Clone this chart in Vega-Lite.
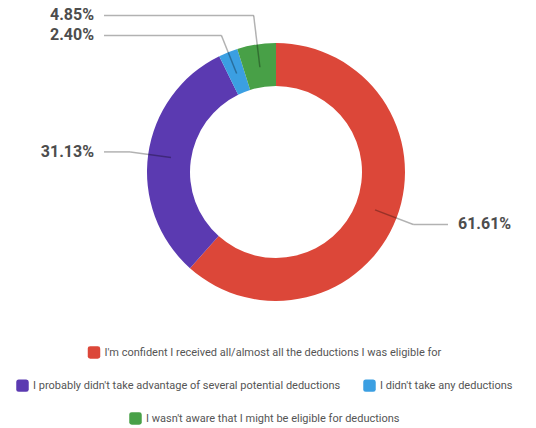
{
  "$schema": "https://vega.github.io/schema/vega-lite/v6.json",
  "width": 528,
  "height": 340,
  "padding": {"left": 0, "right": 8, "top": 2, "bottom": 0},
  "background": "white",
  "data": {
    "values": [
      {"cat": "I'm confident I received all/almost all the deductions I was eligible for", "value": 61.61, "label": "61.61%", "group": 1, "order": 1},
      {"cat": "I probably didn't take advantage of several potential deductions", "value": 31.13, "label": "31.13%", "group": 2, "order": 2},
      {"cat": "I didn't take any deductions", "value": 2.40, "label": "2.40%", "group": 2, "order": 3},
      {"cat": "I wasn't aware that I might be eligible for deductions", "value": 4.85, "label": "4.85%", "group": 3, "order": 4}
    ]
  },
  "transform": [
    {"window": [{"op": "sum", "field": "value", "as": "cum"}], "sort": [{"field": "order"}], "frame": [null, 0]},
    {"calculate": "datum.cum - datum.value", "as": "start"},
    {"calculate": "(datum.start + datum.value / 2) / 99.99 * 2 * PI", "as": "mid"},
    {"calculate": "sin(datum.mid) >= 0 ? 'right' : 'left'", "as": "side"},
    {"calculate": "106 * sin(datum.mid)", "as": "sx"},
    {"calculate": "106 * cos(datum.mid)", "as": "sy"},
    {"calculate": "147 * sin(datum.mid)", "as": "ex"},
    {"calculate": "147 * cos(datum.mid)", "as": "ey0"},
    {"window": [{"op": "lag", "field": "ey0", "as": "prev"}], "groupby": ["side"], "sort": [{"field": "ey0"}]},
    {"calculate": "datum.prev != null && datum.ey0 < datum.prev + 20 ? datum.prev + 20 : datum.ey0", "as": "ey"},
    {"calculate": "datum.side == 'right' ? 172 : -172", "as": "lx"},
    {"calculate": "datum.side == 'right' ? 182 : -182", "as": "tx"}
  ],
  "layer": [
    {
      "transform": [{"filter": "datum.group == 1"}],
      "mark": {"type": "arc", "outerRadius": 129, "innerRadius": 86},
      "encoding": {
        "x": {"datum": 0, "type": "quantitative", "scale": {"domain": [-276, 252], "nice": false, "zero": false}, "axis": null},
        "y": {"datum": 0, "type": "quantitative", "scale": {"domain": [-170, 170], "nice": false, "zero": false}, "axis": null},
        "theta": {"field": "start", "type": "quantitative", "stack": null, "scale": {"domain": [0, 99.99]}},
        "theta2": {"field": "cum"},
        "color": {"field": "cat", "type": "nominal", "scale": {"domain": ["I'm confident I received all/almost all the deductions I was eligible for"], "range": ["#DC4739"]},
          "legend": {"title": null, "orient": "bottom", "direction": "horizontal", "symbolType": "M-0.6,-1H0.6Q1,-1,1,-0.6V0.6Q1,1,0.6,1H-0.6Q-1,1,-1,0.6V-0.6Q-1,-1,-0.6,-1Z"}}
      }
    },
    {
      "transform": [{"filter": "datum.group == 2"}],
      "mark": {"type": "arc", "outerRadius": 129, "innerRadius": 86},
      "encoding": {
        "x": {"datum": 0, "type": "quantitative", "scale": {"domain": [-276, 252], "nice": false, "zero": false}, "axis": null},
        "y": {"datum": 0, "type": "quantitative", "scale": {"domain": [-170, 170], "nice": false, "zero": false}, "axis": null},
        "theta": {"field": "start", "type": "quantitative", "stack": null, "scale": {"domain": [0, 99.99]}},
        "theta2": {"field": "cum"},
        "color": {"field": "cat", "type": "nominal", "scale": {"domain": ["I probably didn't take advantage of several potential deductions", "I didn't take any deductions"], "range": ["#5B3AB1", "#3B9FE2"]},
          "legend": {"title": null, "orient": "bottom", "direction": "horizontal", "symbolType": "M-0.6,-1H0.6Q1,-1,1,-0.6V0.6Q1,1,0.6,1H-0.6Q-1,1,-1,0.6V-0.6Q-1,-1,-0.6,-1Z"}}
      }
    },
    {
      "transform": [{"filter": "datum.group == 3"}],
      "mark": {"type": "arc", "outerRadius": 129, "innerRadius": 86},
      "encoding": {
        "x": {"datum": 0, "type": "quantitative", "scale": {"domain": [-276, 252], "nice": false, "zero": false}, "axis": null},
        "y": {"datum": 0, "type": "quantitative", "scale": {"domain": [-170, 170], "nice": false, "zero": false}, "axis": null},
        "theta": {"field": "start", "type": "quantitative", "stack": null, "scale": {"domain": [0, 99.99]}},
        "theta2": {"field": "cum"},
        "color": {"field": "cat", "type": "nominal", "scale": {"domain": ["I wasn't aware that I might be eligible for deductions"], "range": ["#48A047"]},
          "legend": {"title": null, "orient": "bottom", "direction": "horizontal", "symbolType": "M-0.6,-1H0.6Q1,-1,1,-0.6V0.6Q1,1,0.6,1H-0.6Q-1,1,-1,0.6V-0.6Q-1,-1,-0.6,-1Z"}}
      }
    },
    {
      "mark": {"type": "rule", "color": "#000000", "opacity": 0.3, "strokeWidth": 1.5},
      "encoding": {
        "x": {"field": "sx", "type": "quantitative", "scale": {"domain": [-276, 252], "nice": false, "zero": false}, "axis": null},
        "y": {"field": "sy", "type": "quantitative", "scale": {"domain": [-170, 170], "nice": false, "zero": false}, "axis": null},
        "x2": {"field": "ex"},
        "y2": {"field": "ey"}
      }
    },
    {
      "mark": {"type": "rule", "color": "#000000", "opacity": 0.3, "strokeWidth": 1.5},
      "encoding": {
        "x": {"field": "ex", "type": "quantitative", "axis": null},
        "y": {"field": "ey", "type": "quantitative", "axis": null},
        "x2": {"field": "lx"},
        "y2": {"field": "ey"}
      }
    },
    {
      "transform": [{"filter": "datum.side == 'left'"}],
      "mark": {"type": "text", "align": "right", "baseline": "middle", "font": "Roboto", "fontSize": 16, "fontWeight": "bold", "color": "#4d4d4d"},
      "encoding": {
        "x": {"field": "tx", "type": "quantitative", "axis": null},
        "y": {"field": "ey", "type": "quantitative", "axis": null},
        "text": {"field": "label"}
      }
    },
    {
      "transform": [{"filter": "datum.side == 'right'"}],
      "mark": {"type": "text", "align": "left", "baseline": "middle", "font": "Roboto", "fontSize": 16, "fontWeight": "bold", "color": "#4d4d4d"},
      "encoding": {
        "x": {"field": "tx", "type": "quantitative", "axis": null},
        "y": {"field": "ey", "type": "quantitative", "axis": null},
        "text": {"field": "label"}
      }
    }
  ],
  "resolve": {"scale": {"color": "independent"}},
  "config": {
    "view": {"stroke": null},
    "legend": {
      "symbolSize": 156,
      "symbolStrokeWidth": 0,
      "symbolOpacity": 1,
      "labelFont": "Roboto",
      "labelFontSize": 11,
      "labelColor": "#555555",
      "labelLimit": 600,
      "labelOffset": 4,
      "columnPadding": 22,
      "offset": 4,
      "layout": {"bottom": {"anchor": "middle", "direction": "vertical", "margin": 20, "center": true}}
    }
  }
}
